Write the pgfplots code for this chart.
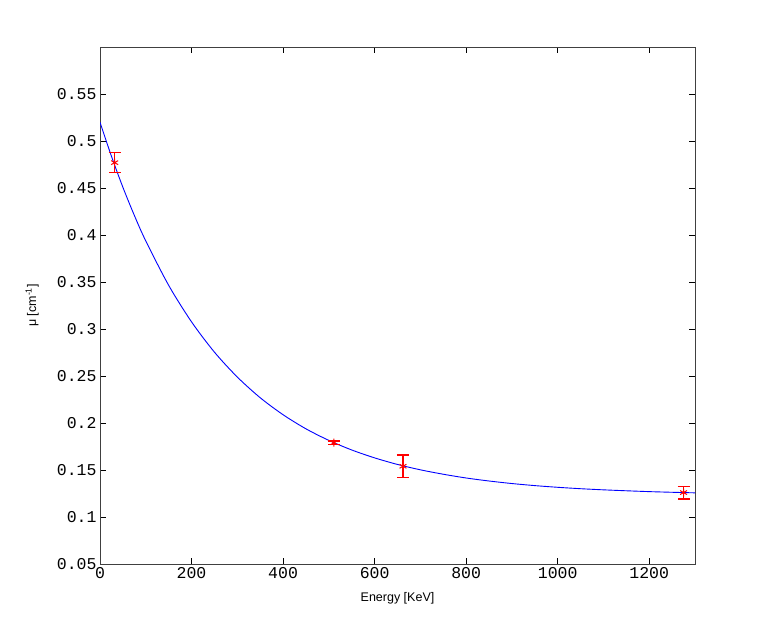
\documentclass[border=0pt]{standalone}
\usepackage{pgfplots}
\pgfplotsset{compat=1.18}
\usepackage{fontspec}
\setmainfont{Liberation Sans}
\newfontfamily\monofont{Liberation Mono}
\definecolor{mred}{RGB}{255,0,0}
\begin{document}
\begin{tikzpicture}[x=1pt,y=1pt]
\path[use as bounding box, fill=white] (0,0) rectangle (768,635);
\begin{axis}[
  at={(100pt,71pt)}, anchor=south west,
  scale only axis, width=595pt, height=517pt,
  xmin=0, xmax=1300, ymin=0.05, ymax=0.6,
  xtick={0,200,...,1200},
  ytick={0.05,0.1,0.15,0.2,0.25,0.3,0.35,0.4,0.45,0.5,0.55},
  tick align=inside,
  major tick length=6pt,
  axis line style={draw=black!75, line width=0.8pt},
  every tick/.style={black, line width=0.7pt},
  /pgf/number format/assume math mode=true,
  /pgf/number format/1000 sep={},
  yticklabel style={/pgf/number format/fixed, /pgf/number format/precision=2},
  tick label style={font=\monofont\fontsize{16.5}{16.5}\selectfont},
  xlabel={Energy [KeV]},
  ylabel={μ [cm\textsuperscript{-1}]},
  xlabel style={font=\fontsize{12.5}{12.5}\selectfont, at={(axis description cs:0.5,-0.066)}, anchor=center},
  ylabel style={font=\fontsize{12.5}{12.5}\selectfont, at={(axis description cs:-0.114,0.5)}, anchor=center},
]
\addplot[blue, line width=0.9pt, smooth] coordinates {
(0,0.520) (25,0.4838) (50,0.4508) (75,0.4209) (100,0.3937) (150,0.3465)
(200,0.3076) (250,0.2754) (300,0.2489) (350,0.2269) (400,0.2088)
(450,0.1938) (500,0.1815) (550,0.1713) (600,0.1629) (650,0.1559)
(700,0.1502) (750,0.1455) (800,0.1415) (850,0.1383) (900,0.1356)
(950,0.1334) (1000,0.1316) (1050,0.1301) (1100,0.1289) (1150,0.1279)
(1200,0.1270) (1250,0.1263) (1300,0.1257)
};
\addplot[mred, only marks, mark=asterisk, mark size=4pt, line width=1pt,
  mark options={solid, draw=mred},
  error bars/.cd, y dir=both, y explicit,
  error bar style={draw=mred, line width=1.3pt},
  error mark options={draw=mred, mark size=6pt, line width=1.3pt, rotate=90}]
coordinates {
(32,0.477) +- (0,0.0105)
(511,0.179) +- (0,0.002)
(662,0.154) +- (0,0.012)
(1275,0.126) +- (0,0.0068)
};
\end{axis}
\end{tikzpicture}
\end{document}
